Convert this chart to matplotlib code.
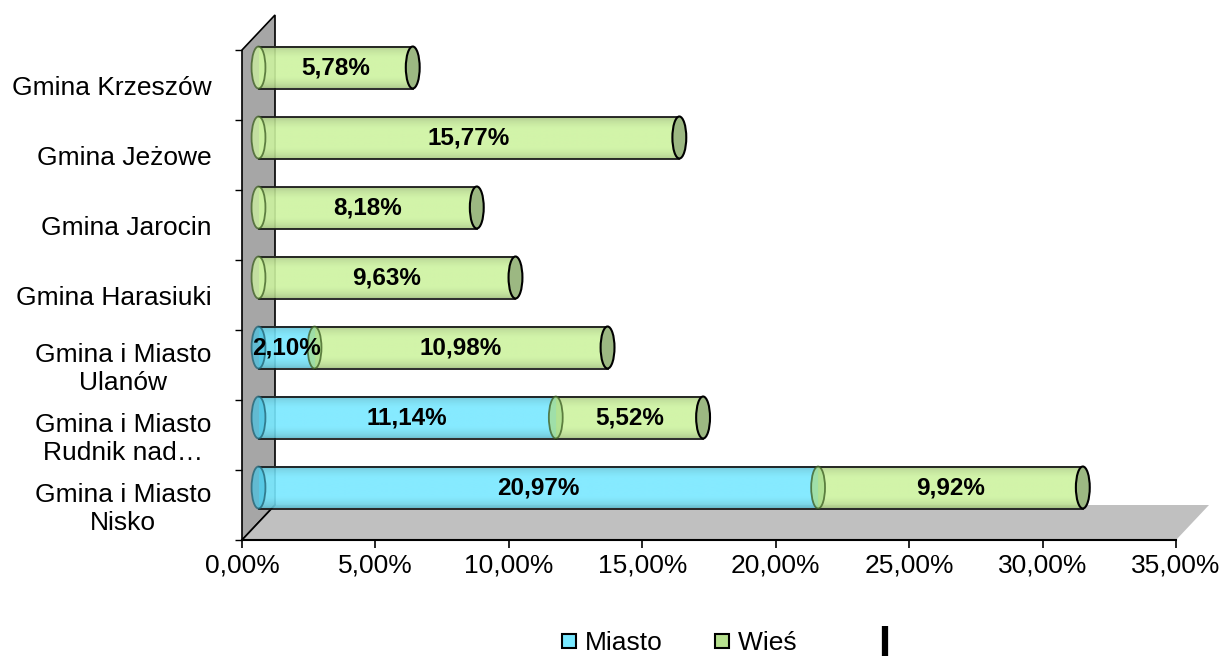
import matplotlib
matplotlib.use("Agg")
import numpy as np
import matplotlib.pyplot as plt
from matplotlib.colors import to_rgb
from matplotlib.patches import Ellipse, Polygon
from matplotlib.lines import Line2D

plt.rcParams['font.family'] = ['Liberation Sans', 'DejaVu Sans']

# data, bottom row first
gminy = ["Gmina i Miasto\nNisko", "Gmina i Miasto\nRudnik nad\u2026", "Gmina i Miasto\nUlanów",
         "Gmina Harasiuki", "Gmina Jarocin", "Gmina Jeżowe", "Gmina Krzeszów"]
miasto = [20.97, 11.14, 2.10, 0, 0, 0, 0]
wies = [9.92, 5.52, 10.98, 9.63, 8.18, 15.77, 5.78]
xticks = [0, 5, 10, 15, 20, 25, 30, 35]

c_miasto = "#78e8ff"
c_miasto_cap = "#4cc2e0"
c_wies = "#cdf3a0"
c_wies_cap = "#9cb882"
c_wies_join = "#a8dc8c"

fig = plt.figure(figsize=(12.26, 6.58), dpi=100)
ax = fig.add_axes([242/1226, 118/658, 934/1226, 490/658])

dep_x = 33 / (934 / 35)   # depth of the 3d box in x units
dep_y = 0.5               # depth in category units
dx, dy = dep_x / 2, dep_y / 2
h = 0.6
capw = 0.52

# back wall and floor
wall = Polygon([(0, -0.5), (0, 6.5), (dep_x, 6.5 + dep_y), (dep_x, -0.5 + dep_y)],
               closed=True, facecolor="#a6a6a6", edgecolor="black", lw=1.2, clip_on=False, zorder=1)
ax.add_patch(wall)
floor = Polygon([(0, -0.5), (dep_x, -0.5 + dep_y), (35 + dep_x, -0.5 + dep_y), (35, -0.5)],
                closed=True, facecolor="#c0c0c0", edgecolor="none", clip_on=False, zorder=1)
ax.add_patch(floor)
ax.plot([0, dep_x], [-0.5, -0.5 + dep_y], color="black", lw=1.2, clip_on=False, zorder=2)

t = np.linspace(0, 1, 60)
shade = np.clip(0.8 + 0.24 * np.sin(np.pi * t) ** 0.6, 0, 1)


def cylinder(a, b, yc, body, cap_left, edge_left, last, cap_right):
    x0, x1 = a + dx, b + dx
    y0 = yc + dy
    rgb = np.array(to_rgb(body))
    grad = np.clip(shade[:, None] * rgb[None, :], 0, 1)[:, None, :]
    im = ax.imshow(grad, extent=(x0, x1, y0 - h/2, y0 + h/2), origin="lower",
                   aspect="auto", alpha=0.9, zorder=3, interpolation="bilinear")
    im.set_clip_on(False)
    ax.plot([x0, x1], [y0 + h/2, y0 + h/2], color="#1a1a1a", lw=1.3, zorder=4, clip_on=False)
    ax.plot([x0, x1], [y0 - h/2, y0 - h/2], color="#1a1a1a", lw=1.3, zorder=4, clip_on=False)
    ax.add_patch(Ellipse((x0, y0), capw, h, facecolor=cap_left, edgecolor=edge_left,
                         lw=1.3, alpha=0.75, zorder=4, clip_on=False))
    if last:
        ax.add_patch(Ellipse((x1, y0), capw, h, facecolor=cap_right, edgecolor="black",
                             lw=1.5, zorder=5, clip_on=False))


for i in range(len(gminy)):
    m, w = miasto[i], wies[i]
    if m > 0:
        cylinder(0, m, i, c_miasto, c_miasto_cap, "#1f5f70", False, None)
        cylinder(m, m + w, i, c_wies, c_wies_join, "#3a5a20", True, c_wies_cap)
        ax.text(m/2 + dx, i + dy, f"{m:.2f}%".replace(".", ","), ha="center", va="center",
                fontsize=17.5, fontweight="bold", zorder=6)
    else:
        cylinder(0, w, i, c_wies, c_wies, "#3a5a20", True, c_wies_cap)
    ax.text(m + w/2 + dx, i + dy, f"{w:.2f}%".replace(".", ","), ha="center", va="center",
            fontsize=17.5, fontweight="bold", zorder=6)

ax.set_xlim(0, 35)
ax.set_ylim(-0.5, 6.5)

# axes styling
for s in ["top", "right"]:
    ax.spines[s].set_visible(False)
ax.spines["left"].set_visible(False)
ax.spines["bottom"].set_linewidth(1.5)
ax.spines["bottom"].set_zorder(5)
ax.set_xticks(xticks)
ax.set_xticklabels([f"{t:.2f}%".replace(".", ",") for t in xticks], fontsize=19)
ax.tick_params(axis="x", length=6, width=1.2, pad=4)
ax.set_yticks([k - 0.5 for k in range(len(gminy) + 1)])
ax.set_yticklabels([])
ax.tick_params(axis="y", length=5, width=1.0)
ax.set_yticks(range(len(gminy)), minor=True)
ax.set_yticklabels(gminy, minor=True, fontsize=19, multialignment="center")
ax.tick_params(axis="y", which="minor", length=0, pad=22)
ax.patch.set_visible(False)

handles = [Line2D([], [], ls="none", marker="s", markersize=10, markerfacecolor=c_miasto,
                  markeredgecolor="black", markeredgewidth=1.5),
           Line2D([], [], ls="none", marker="s", markersize=10, markerfacecolor="#b6e08e",
                  markeredgecolor="black", markeredgewidth=1.5),
           Line2D([], [], ls="none", marker="|", markersize=21, markeredgecolor="black",
                  markeredgewidth=4.5)]
fig.legend(handles, ["Miasto", "Wieś" + "\u00a0" * 4, ""], loc="center", ncol=3,
           bbox_to_anchor=(731/1226, 1 - 643/658), frameon=False, fontsize=19,
           handlelength=0.6, handletextpad=0.3, columnspacing=1.95)

fig.savefig("out.png", dpi=100)
